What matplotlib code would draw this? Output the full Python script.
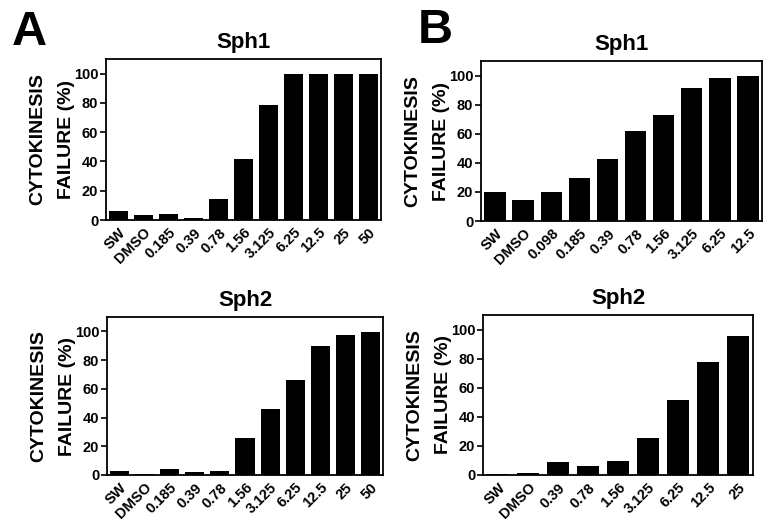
import matplotlib
matplotlib.use("Agg")
import matplotlib.pyplot as plt

plt.rcParams['font.family'] = ['Liberation Sans', 'DejaVu Sans']
plt.rcParams['font.weight'] = 'bold'

# concentrations / controls for each panel
a_sph1_labels = ["SW", "DMSO", "0.185", "0.39", "0.78", "1.56", "3.125", "6.25", "12.5", "25", "50"]
a_sph1_values = [6, 3.2, 4.1, 1.1, 14.3, 41.6, 78.9, 100, 100, 100, 100]

b_sph1_labels = ["SW", "DMSO", "0.098", "0.185", "0.39", "0.78", "1.56", "3.125", "6.25", "12.5"]
b_sph1_values = [19.6, 14.7, 19.6, 29.7, 42.9, 61.8, 73, 91.2, 98.2, 99.8]

a_sph2_labels = ["SW", "DMSO", "0.185", "0.39", "0.78", "1.56", "3.125", "6.25", "12.5", "25", "50"]
a_sph2_values = [3, 0.9, 4.4, 1.9, 3, 25.7, 46, 66.2, 89.6, 97.7, 99.8]

b_sph2_labels = ["SW", "DMSO", "0.39", "0.78", "1.56", "3.125", "6.25", "12.5", "25"]
b_sph2_values = [0.5, 1.4, 8.7, 6.4, 9.7, 25.3, 51.5, 77.5, 95.6]

W, H = 765, 527
fig = plt.figure(figsize=(W / 100, H / 100), dpi=100)


def box(l, r, t, b):
    return [l / W, 1 - b / H, (r - l) / W, (b - t) / H]


def draw(rect, labels, values, title):
    ax = fig.add_axes(rect)
    x = range(len(values))
    ax.bar(x, values, width=0.76, color="black")
    ax.set_xlim(-0.5, len(values) - 0.5)
    ax.set_ylim(0, 110)
    ax.set_yticks([0, 20, 40, 60, 80, 100])
    ax.set_xticks(list(x))
    ax.set_xticklabels(labels, rotation=45, ha="right", rotation_mode="anchor",
                       fontsize=10.5, fontweight="bold")
    ax.tick_params(axis="x", length=0, pad=4)
    ax.tick_params(axis="y", length=4.5, width=1.2, labelsize=10.5, pad=1)
    for s in ax.spines.values():
        s.set_linewidth(1.3)
    ax.set_title(title, fontsize=16, fontweight="bold", pad=8)
    ax.set_ylabel("CYTOKINESIS\nFAILURE (%)", fontsize=14, fontweight="bold",
                  linespacing=1.95, labelpad=-1)
    return ax


draw(box(106, 381, 59, 220), a_sph1_labels, a_sph1_values, "Sph1")
draw(box(481, 762, 61, 221), b_sph1_labels, b_sph1_values, "Sph1")
draw(box(107, 383, 317, 475), a_sph2_labels, a_sph2_values, "Sph2")
draw(box(483, 753, 315, 475), b_sph2_labels, b_sph2_values, "Sph2")

fig.text(12 / W, 1 - 45 / H, "A", fontsize=35, fontweight="bold", ha="left", va="baseline")
fig.text(418 / W, 1 - 43 / H, "B", fontsize=35, fontweight="bold", ha="left", va="baseline")

fig.savefig("out.png", dpi=100)
